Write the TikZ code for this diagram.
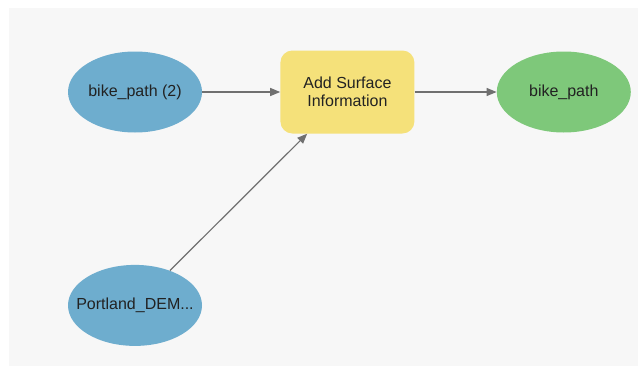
\documentclass[tikz,border=0pt]{standalone}
\usepackage{fontspec}
\setmainfont{Liberation Sans}
\usepackage{xcolor}
\usepackage{tikz}
\usetikzlibrary{arrows.meta,positioning,shapes.geometric,calc}
\definecolor{dataBlue}{RGB}{110,173,206}
\definecolor{toolYellow}{RGB}{245,225,122}
\definecolor{outGreen}{RGB}{126,200,122}
\definecolor{linkGray}{RGB}{112,112,112}
\definecolor{canvasGray}{RGB}{247,247,247}
\definecolor{labelInk}{RGB}{34,34,34}

\begin{document}
\begin{tikzpicture}[x=1pt, y=1pt,
    every node/.style={font=\fontsize{16}{18.5}\selectfont, text=labelInk},
    dataval/.style={ellipse, draw=none, minimum width=134pt, minimum height=81pt, inner sep=0pt},
    toolbox/.style={rectangle, rounded corners=12pt, fill=toolYellow, minimum width=134pt, minimum height=83pt, align=center},
    link/.style={-{Triangle[length=10pt, width=8pt]}, line width=1.2pt, color=linkGray}]
    \useasboundingbox (0,0) rectangle (638,-375);
    \fill[white] (0,0) rectangle (638,-375);
    \fill[canvasGray] (9,-8) rectangle (638,-366);

    \node[dataval, fill=dataBlue] (bikein) at (135,-92) {\makebox[0pt]{bike\_path (2)}};
    \node[toolbox, right=78pt of bikein] (addsurf) {Add Surface\\Information};
    \node[dataval, fill=outGreen, right=82pt of addsurf] (bikeout) {\makebox[0pt]{bike\_path}};
    \node[dataval, fill=dataBlue, below=132pt of bikein] (portland) {\makebox[0pt]{Portland\_DEM...}};
    \coordinate (demtip) at ($(addsurf.south west)+(27pt,0)$);

    \draw[link] (bikein)--(addsurf);
    \draw[link] (addsurf)--(bikeout);
    \draw[link] (portland)--(demtip);
\end{tikzpicture}
\end{document}
